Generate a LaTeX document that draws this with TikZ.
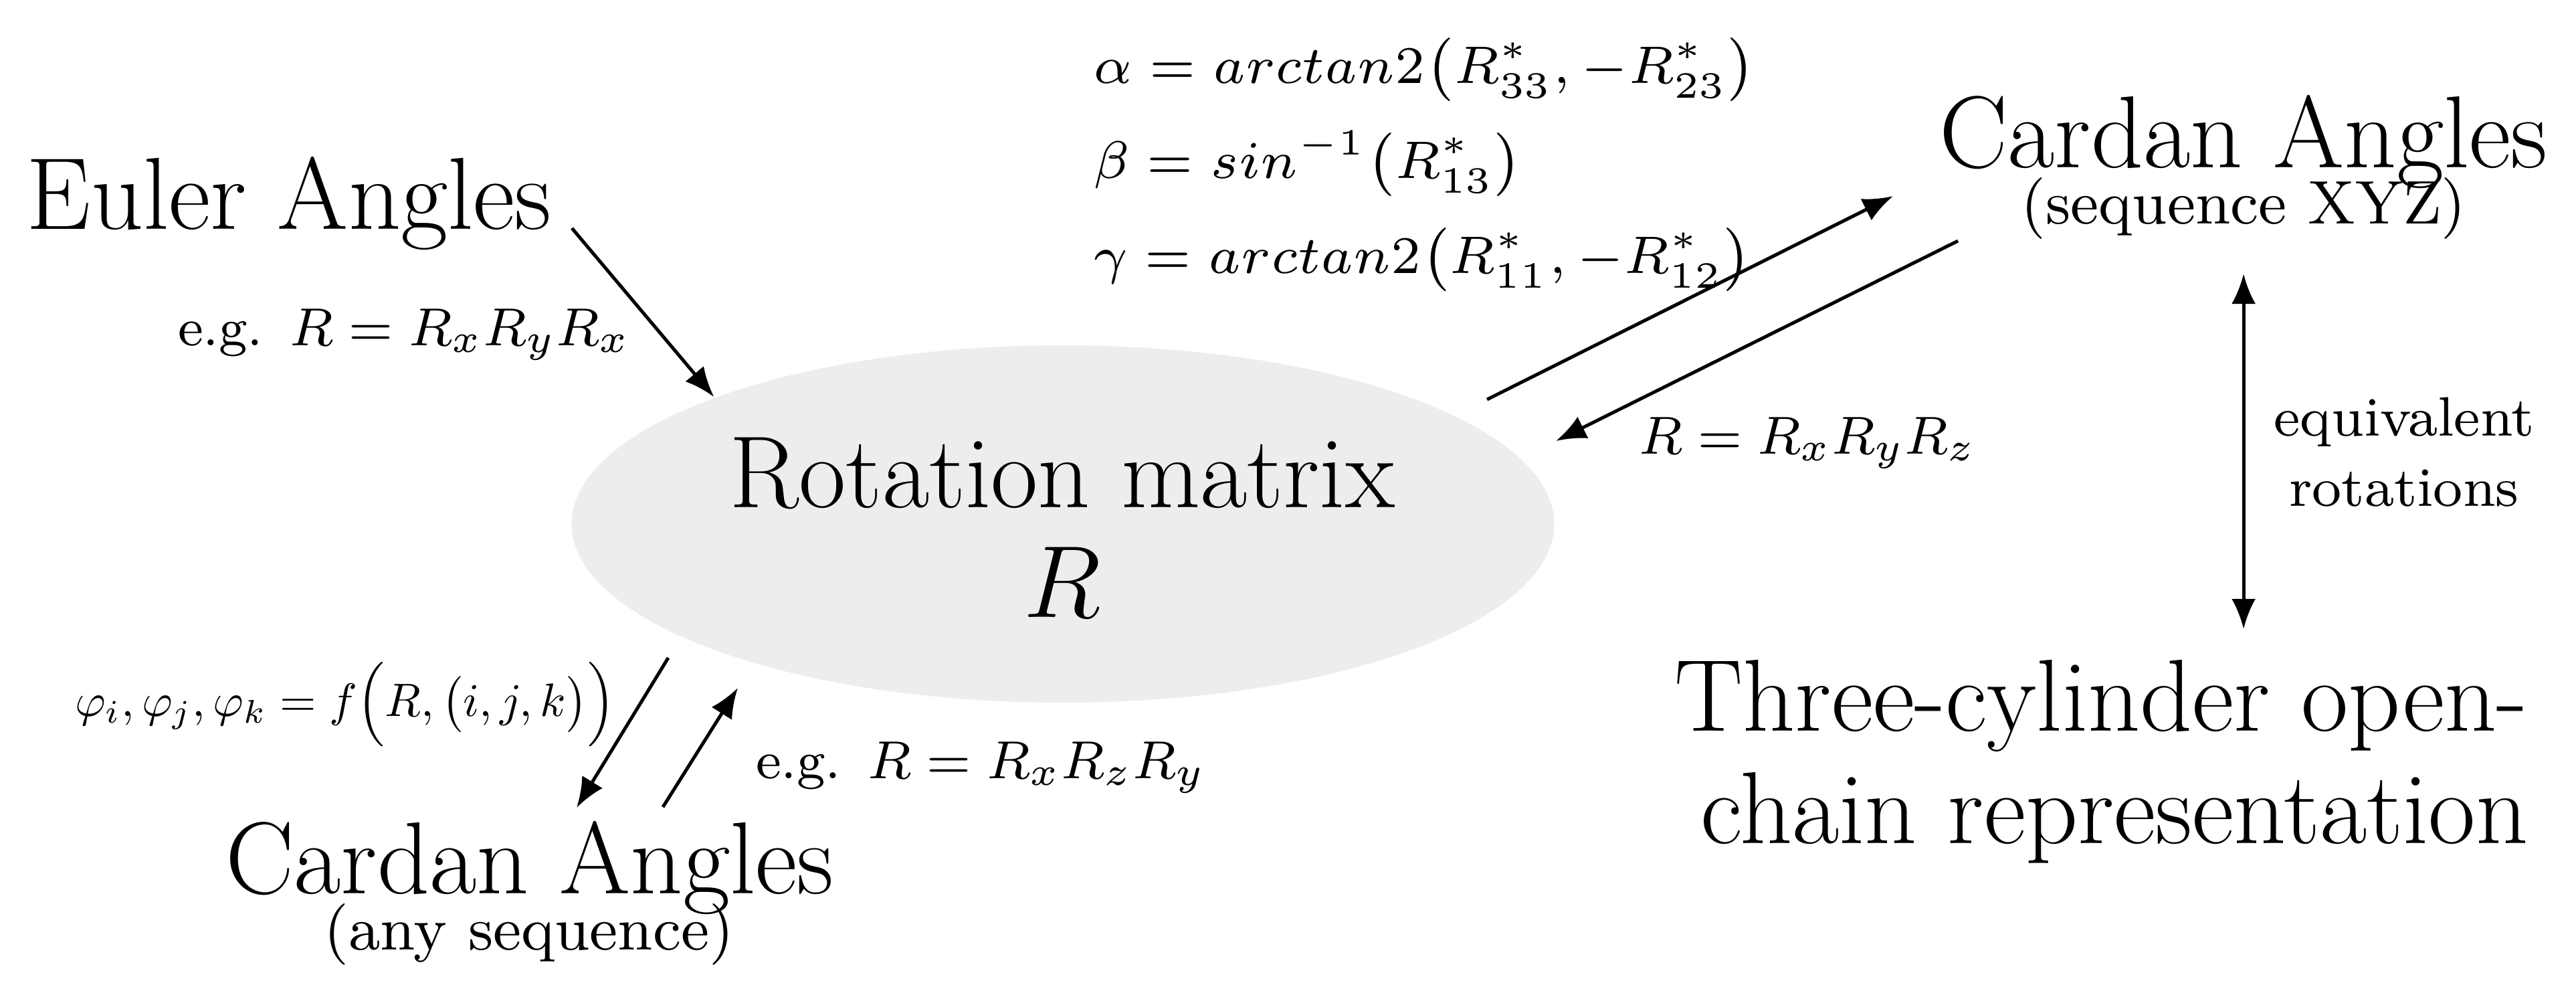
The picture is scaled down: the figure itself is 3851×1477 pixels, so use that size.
\RequirePackage{fix-cm}
\documentclass[tikz,border=0pt]{standalone}
\usepackage{amsmath}
\usepackage{graphicx}
\usetikzlibrary{arrows.meta,shapes.geometric}
\tikzset{
  bigtxt/.style={font=\fontsize{15.3}{18}\selectfont, inner sep=0pt},
  subtxt/.style={font=\fontsize{9.2}{11}\selectfont, inner sep=0pt},
  labtxt/.style={font=\fontsize{8.0}{10}\selectfont, inner sep=0pt},
  formtxt/.style={font=\fontsize{7.9}{10.2}\selectfont, inner sep=0pt},
  phitxt/.style={font=\fontsize{10}{12.5}\selectfont, inner sep=0pt},
  eqtxt/.style={font=\fontsize{8.3}{10.5}\selectfont, inner sep=0pt, align=center},
  conn/.style={line width=0.5pt, -{Latex[length=4.5pt,width=3.6pt]}},
  dconn/.style={line width=0.5pt, {Latex[length=4.5pt,width=3.6pt]}-{Latex[length=4.5pt,width=3.6pt]}},
}
\begin{document}
\begin{tikzpicture}[x=0.1pt,y=-0.1pt]
\useasboundingbox (0,0) rectangle (3851,1477);
% central ellipse
\node[ellipse, fill={rgb,255:red,237;green,237;blue,237}, draw=none, inner sep=0pt,
      minimum width=146.9pt, minimum height=53.4pt] (rot) at (1589,783) {};
\node[bigtxt, anchor=base] (rotlbl) at (1588,758) {Rotation matrix};
\node[bigtxt, anchor=base] (rotR) at (1588,922) {$R$};

% Euler
\node[bigtxt, anchor=base west] (euler) at (38,342) {Euler Angles};
\node[labtxt, anchor=base west] (eg1) at (264,516) {e.g.\hspace{0.5em}$R = R_xR_yR_x$};

% bottom Cardan
\node[phitxt, anchor=base west] (phi) at (110,1070) {\scalebox{0.7}{$\varphi_i,\varphi_j,\varphi_k = f\Bigl(R,\bigl(i,j,k\bigr)\Bigr)$}};
\node[labtxt, anchor=base west] (eg2) at (1128,1163) {e.g.\hspace{0.5em}$R = R_xR_zR_y$};
\node[bigtxt, anchor=base] (cardB) at (792,1335) {Cardan Angles};
\node[subtxt, anchor=base] (seqB) at (791,1419) {(any sequence)};

% formulas
\node[formtxt, anchor=base west] (falpha) at (1632,124) {$\alpha = arctan2\bigl(R^*_{33},-R^*_{23}\bigr)$};
\node[formtxt, anchor=base west] (fbeta) at (1632,266) {$\beta = sin^{-1}\bigl(R^*_{13}\bigr)$};
\node[formtxt, anchor=base west] (fgamma) at (1632,408) {$\gamma = arctan2\bigl(R^*_{11},-R^*_{12}\bigr)$};

% top-right Cardan
\node[bigtxt, anchor=base] (cardT) at (3354,250) {Cardan Angles};
\node[subtxt, anchor=base] (seqT) at (3354,334) {(sequence XYZ)};
\node[labtxt, anchor=base west] (eg3) at (2448,678) {$R = R_xR_yR_z$};

% equivalent rotations
\node[eqtxt, anchor=north] (equiv) at (3594,592) {equivalent\\rotations};

% three-cylinder
\node[bigtxt, anchor=north east, align=right, font=\fontsize{15.3}{16.8}\selectfont] (three) at (3781,984)
  {Three-cylinder open-\\chain representation};

% connector end points
\coordinate (a1s) at (855,341);
\coordinate (a2s) at (999,983);
\coordinate (a2e) at (862,1207);
\coordinate (a3s) at (991,1206);
\coordinate (a3e) at (1103,1028);
\coordinate (a4s) at (2223,597);
\coordinate (a4e) at (2830,293);
\coordinate (a5s) at (2927,360);
\coordinate (a5e) at (2326,659);
\coordinate (a6s) at (3354,409);
\coordinate (a6e) at (3354,940);

\draw[conn] (a1s) -- (rot.160);
\draw[conn] (a2s) -- (a2e);
\draw[conn] (a3s) -- (a3e);
\draw[conn] (a4s) -- (a4e);
\draw[conn] (a5s) -- (a5e);
\draw[dconn] (a6s) -- (a6e);
\end{tikzpicture}
\end{document}
